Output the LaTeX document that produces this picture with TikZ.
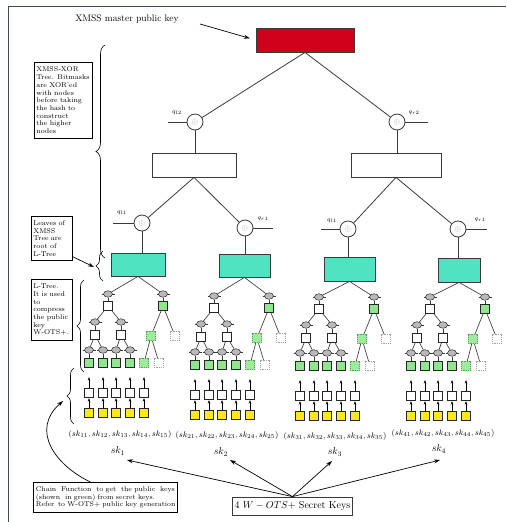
\documentclass[tikz,border=0pt]{standalone}
\usetikzlibrary{shapes.geometric,arrows.meta,decorations.pathreplacing,calc}
\definecolor{xred}{HTML}{D0021B}
\definecolor{xteal}{HTML}{50E3C2}
\definecolor{lgreen}{HTML}{8FE68F}
\definecolor{kyellow}{HTML}{FFE81A}
\definecolor{framec}{HTML}{3E4A52}
\definecolor{linec}{HTML}{3A3A3A}

% gray bitmask node with its two input stubs
\newcommand\Ell[3]{\draw[stub] (#2-6.5,#3) -- (#2+6.5,#3); \node[ell] (#1) at (#2,#3) {};}

% one L-tree with its five W-OTS+ chains; #1 prefix, (#2,#3) top-left bitmask, #4 root box
\newcommand\LTree[4]{%
\begin{scope}[shift={(#2,#3)}]
  \Ell{#1eL}{0}{0}
  \Ell{#1eR}{55}{0}
  \node[wsq] (#1sL) at (0,12) {};
  \node[gsq] (#1sR) at (55,12) {};
  \Ell{#1ea}{-13}{28}
  \Ell{#1eb}{13}{28}
  \node[wsq] (#1sa) at (-13,41) {};
  \node[wsq] (#1sb) at (13,41) {};
  \foreach \i/\x in {1/-19,2/-5,3/8,4/22}{%
    \Ell{#1f\i}{\x}{56}
    \node[gsq] (#1g\i) at (\x,69) {};
    \draw[tedge] (#1f\i) -- (#1g\i);
  }
  \node[dgsq] (#1d1) at (43,42) {};
  \node[dwsq] (#1w1) at (67,42) {};
  \node[dgsq] (#1d2) at (36,69) {};
  \node[dwsq] (#1w2) at (51,69) {};
  \draw[tedge] (#1eL) -- (#1sL);
  \draw[tedge] (#1eR) -- (#1sR);
  \draw[tedge] (#1sL) -- (#1ea);
  \draw[tedge] (#1sL) -- (#1eb);
  \draw[tedge] (#1ea) -- (#1sa);
  \draw[tedge] (#1eb) -- (#1sb);
  \draw[tedge] (#1sa) -- (#1f1);
  \draw[tedge] (#1sa) -- (#1f2);
  \draw[tedge] (#1sb) -- (#1f3);
  \draw[tedge] (#1sb) -- (#1f4);
  \draw[tedge] (#1sR) -- (#1d1);
  \draw[tedge] (#1sR) -- (#1w1);
  \draw[tedge] (#1d1) -- (#1d2);
  \draw[tedge] (#1d1) -- (#1w2);
  \foreach \i/\x in {1/-19,2/-5,3/8,4/22,5/36}{%
    \coordinate (#1k\i) at (\x,83);
    \node[wsq] (#1c\i) at (\x,99) {};
    \node[ysq] (#1y\i) at (\x,119) {};
    \draw[carr] (#1y\i) -- (#1c\i);
    \draw[carr] (#1c\i) -- (#1k\i);
  }
\end{scope}
\draw[tedge] (#4.south) -- (#1eL);
\draw[tedge] (#4.south) -- (#1eR);
}

\newcommand\xo{\textcolor{gray!60}{$\oplus$}}
\newcommand\nohyph{\hyphenpenalty=10000\relax\exhyphenpenalty=10000\relax}

\begin{document}
\begin{tikzpicture}[x=1pt,y=-1pt,
  edge/.style={draw=linec,line width=0.8pt},
  tedge/.style={draw=linec,line width=0.65pt},
  stub/.style={draw=linec,line width=0.5pt},
  arr/.style={draw=black,line width=0.7pt,-{Stealth[length=6pt,width=4pt]}},
  carr/.style={draw=black,line width=0.55pt,-{Stealth[length=3.5pt,width=2.6pt]}},
  box/.style={rectangle,draw=linec,line width=0.8pt,inner sep=0pt},
  xorc/.style={circle,draw=linec,line width=0.8pt,fill=white,minimum size=16pt,inner sep=0pt,font=\fontsize{8.5}{8.5}\selectfont},
  ell/.style={ellipse,draw=gray!35!black,fill=gray!55,line width=0.5pt,minimum width=9pt,minimum height=6.5pt,inner sep=0pt},
  sq/.style={rectangle,draw=gray!30!black,line width=0.7pt,minimum size=9.5pt,inner sep=0pt},
  wsq/.style={sq,fill=white},
  gsq/.style={sq,fill=lgreen},
  ysq/.style={sq,fill=kyellow},
  dgsq/.style={sq,fill=lgreen!85,draw=green!50!black!70,dash pattern=on 1.2pt off 1pt},
  dwsq/.style={sq,fill=white,draw=gray!75,dash pattern=on 1.2pt off 1pt},
  note/.style={draw=black,line width=0.7pt,align=left,anchor=north west,inner sep=2pt,
    font=\fontsize{7}{7.7}\selectfont},
  qlab/.style={font=\fontsize{6.5}{7}\selectfont},
  brc/.style={decorate,draw=black,line width=0.6pt,decoration={brace,amplitude=#1}},
]
\useasboundingbox (0,0) rectangle (506,522);
\draw[framec,line width=1pt] (8,522) -- (8,6) -- (506,6);

% master public key
\node[font=\fontsize{9.5}{11}\selectfont] (title) at (127,19) {XMSS master public key};
\node[box,fill=xred,minimum width=98pt,minimum height=24pt] (root) at (305,40) {};
\coordinate (titlearrow) at (200,24);
\draw[arr,shorten >=6pt] (titlearrow) -- (root.west);

% XMSS-XOR tree
\node[xorc] (cl2) at (195,122) {\xo};
\node[xorc] (cr2) at (397,122) {\xo};
\node[box,fill=white,minimum width=84pt,minimum height=24pt] (bl) at (194,165) {};
\node[box,fill=white,minimum width=90pt,minimum height=24pt] (br) at (396,165) {};
\node[xorc] (c1) at (142,223) {\xo};
\node[xorc] (c2) at (245,228) {\xo};
\node[xorc] (c3) at (348,229) {\xo};
\node[xorc] (c4) at (458,229) {\xo};
\node[box,fill=xteal,minimum width=54pt,minimum height=23pt] (t1) at (138,264.5) {};
\node[box,fill=xteal,minimum width=51pt,minimum height=23pt] (t2) at (244.5,265.5) {};
\node[box,fill=xteal,minimum width=51pt,minimum height=24pt] (t3) at (349.5,269) {};
\node[box,fill=xteal,minimum width=42pt,minimum height=24pt] (t4) at (459,270) {};

\draw[edge] (root.south) -- (cl2);
\draw[edge] (root.south) -- (cr2);
\draw[edge] (cl2) -- (cl2 |- bl.north);
\draw[edge] (cr2) -- (cr2 |- br.north);
\draw[edge] (bl.south) -- (c1);
\draw[edge] (bl.south) -- (c2);
\draw[edge] (br.south) -- (c3);
\draw[edge] (br.south) -- (c4);
\foreach \n/\t in {c1/t1,c2/t2,c3/t3,c4/t4}
  \draw[edge] (\n) -- (\n |- \t.north);

% bitmask inputs
\draw[edge] (cl2.west) -- ++(-19,0);
\node[qlab] at (177,113) {$q_{l2}$};
\draw[edge] (cr2.east) -- ++(23,0);
\node[qlab] at (414,113) {$q_{r2}$};
\draw[edge] (c1.west) -- ++(-21,0);
\node[qlab] at (122,213) {$q_{l1}$};
\draw[edge] (c2.east) -- ++(20,0);
\node[qlab] at (263,219) {$q_{r1}$};
\draw[edge] (c3.west) -- ++(-19,0);
\node[qlab] at (332,221) {$q_{l1}$};
\draw[edge] (c4.east) -- ++(21,0);
\node[qlab] at (480,220) {$q_{r1}$};

% L-trees and chains
\LTree{a}{108}{294}{t1}
\LTree{b}{214}{296}{t2}
\LTree{c}{319}{297}{t3}
\LTree{d}{430}{297}{t4}

% secret keys
\node[font=\fontsize{8}{9}\selectfont] (tup1) at (120,434) {$(sk_{11},sk_{12},sk_{13},sk_{14},sk_{15})$};
\node[font=\fontsize{8}{9}\selectfont] (tup2) at (227,435) {$(sk_{21},sk_{22},sk_{23},sk_{24},sk_{25})$};
\node[font=\fontsize{8}{9}\selectfont] (tup3) at (335,436) {$(sk_{31},sk_{32},sk_{33},sk_{34},sk_{35})$};
\node[font=\fontsize{8}{9}\selectfont] (tup4) at (443,433) {$(sk_{41},sk_{42},sk_{43},sk_{44},sk_{45})$};
\node[font=\fontsize{10}{12}\selectfont] (sk1) at (118,451) {$sk_1$};
\node[font=\fontsize{10}{12}\selectfont] (sk2) at (221,452) {$sk_2$};
\node[font=\fontsize{10}{12}\selectfont] (sk3) at (335,452) {$sk_3$};
\node[font=\fontsize{10}{12}\selectfont] (sk4) at (439,449) {$sk_4$};
\coordinate (sk1a) at (127,460);
\coordinate (sk2a) at (230,460);
\coordinate (sk3a) at (332,461);
\coordinate (sk4a) at (440,460);
\node[box,inner sep=2pt,minimum width=119pt,minimum height=18pt,font=\fontsize{10}{12}\selectfont] (skbox) at (292.5,506) {4 $W-OTS+$ Secret Keys};
\foreach \k in {1,...,4}
  \draw[arr] (skbox.north) -- (sk\k a);

% explanatory notes
\node[note,text width=54pt,minimum height=76pt] (xornote) at (34,62)
  {\nohyph XMSS-XOR\\Tree. Bitmasks\\are XOR'ed\\with nodes\\before taking\\the hash to\\construct\\the higher\\nodes};
\node[note,text width=37pt,minimum height=44pt] (leafnote) at (31,216)
  {\nohyph Leaves of\\XMSS\\Tree are\\root of\\L-Tree};
\node[note,text width=37pt,minimum height=61pt] (ltreenote) at (31,279)
  {\nohyph L-Tree.\\It is used\\to\\compress\\the public\\key\\W-OTS+.};
\node[note,text width=139pt,minimum height=30pt,inner sep=2.5pt,font=\fontsize{6.9}{7.6}\selectfont] (chainnote) at (33,482)
  {\hbox to 139pt{Chain\hfill Function\hfill to get\hfill the public\hfill keys}\\\mbox{(shown\hskip 5pt in green) from secret keys.}\\\mbox{Refer\hskip 4pt to W-OTS+ public key generation}};

% braces
\draw[brc=9pt] (105,258) -- (105,45);
\draw[brc=7pt] (103,281) -- (103,251);
\draw[brc=7pt] (84,372) -- (84,280);
\draw[brc=7pt] (74,424) -- (74,368);
\coordinate (leaftip) at (94,267);
\coordinate (chaintip) at (63,401);
\draw[arr] ([yshift=4pt]leafnote.south east) -- (leaftip);
\draw[arr] ([xshift=-15pt]chainnote.north) .. controls (55,465) and (30,430) .. (chaintip);
\end{tikzpicture}
\end{document}
